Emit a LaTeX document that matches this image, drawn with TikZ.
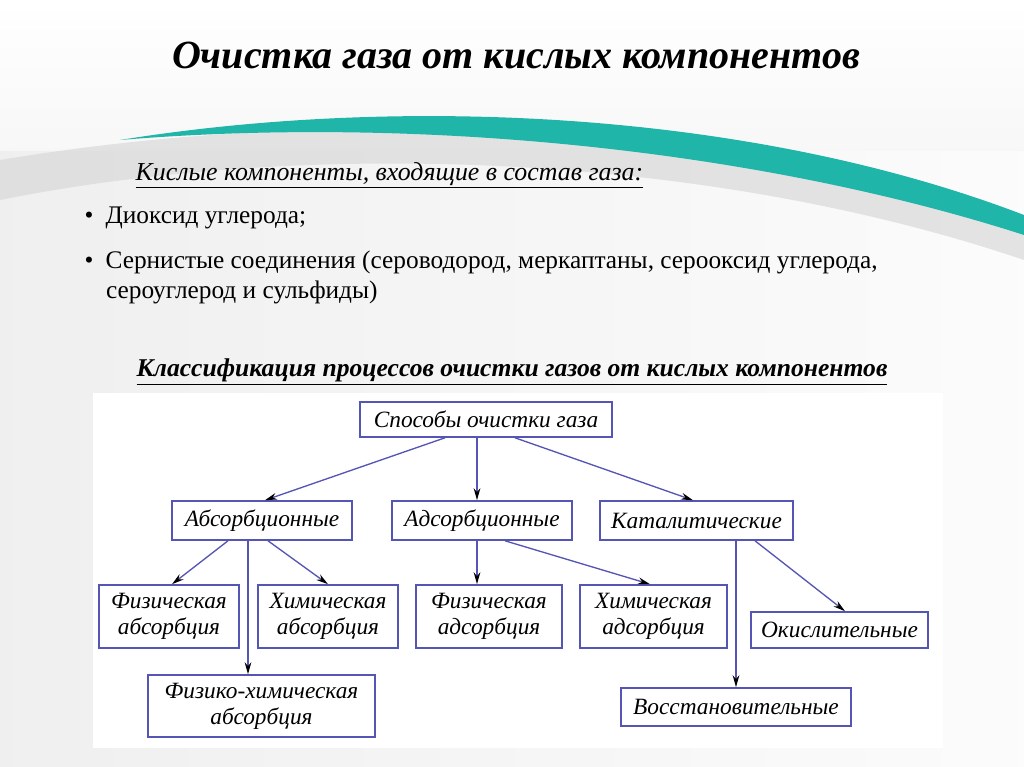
\documentclass[tikz,border=0pt]{standalone}
\usepackage{fontspec}
\setmainfont{Liberation Serif}
\usetikzlibrary{arrows.meta,calc}
\definecolor{edge}{HTML}{5555B5}
\definecolor{teal1}{HTML}{1FB5A8}
\begin{document}
\begin{tikzpicture}[x=0.75pt,y=-0.75pt,
  box/.style={draw=edge,line width=1.2pt,fill=white,inner sep=0pt,align=center,font=\fontsize{17.5}{19.5}\selectfont\itshape},
  conn/.style={draw=edge,line width=1pt,-{Stealth[length=9pt,width=5pt,black]}}]
\useasboundingbox (0,0) rectangle (1024,767);
\fill[left color=gray!40,right color=gray!8] (0,0) rectangle (1024,767);
\fill[white,opacity=0.7] (0,0) rectangle (1024,767);
\fill[top color=white,bottom color=white!94!gray] (0,0) rectangle (1024,150);
% swoosh
\fill[gray!30,opacity=0.7] (0,160) .. controls (300,110) and (700,110) .. (1024,230) -- (1024,260) .. controls (700,150) and (300,140) .. (0,200) -- cycle;
\fill[teal1] (120,140) .. controls (400,95) and (750,110) .. (1024,215) -- (1024,235) .. controls (760,150) and (420,115) .. (120,140) -- cycle;
\node[font=\fontsize{30}{34}\selectfont\bfseries\itshape] (title) at (516,55) {Очистка газа от кислых компонентов};
\node[anchor=west,font=\fontsize{19.4}{23}\selectfont\itshape] (sub) at (131,175) {\underline{Кислые компоненты, входящие в состав газа:}};
\node[anchor=west,font=\fontsize{19}{23}\selectfont] (b1) at (80,218) {•\hspace{9pt}Диоксид углерода;};
\node[anchor=north west,align=left,font=\fontsize{19}{23}\selectfont] (b2) at (80,246) {•\hspace{9pt}Сернистые соединения (сероводород, меркаптаны, серооксид углерода,\\\hspace{16pt}сероуглерод и сульфиды)};
\node[font=\fontsize{19.2}{23}\selectfont\bfseries\itshape] (cls) at (512,372) {\underline{Классификация процессов очистки газов от кислых компонентов}};
\fill[white] (93,393) rectangle (943,748);
\node[box,minimum width=252*0.75pt,minimum height=35*0.75pt] (top) at (486,419.5) {Способы очистки газа};
\node[box,minimum width=180*0.75pt,minimum height=39*0.75pt] (abs) at (262,520.5) {Абсорбционные};
\node[box,minimum width=180*0.75pt,minimum height=39*0.75pt] (ads) at (482,520.5) {Адсорбционные};
\node[box,minimum width=193*0.75pt,minimum height=39*0.75pt] (kat) at (696.5,520.5) {Каталитические};
\node[box,minimum width=140*0.75pt,minimum height=63*0.75pt] (fa) at (169,616.5) {Физическая\\абсорбция};
\node[box,minimum width=140*0.75pt,minimum height=63*0.75pt] (ha) at (328,616.5) {Химическая\\абсорбция};
\node[box,minimum width=146*0.75pt,minimum height=63*0.75pt] (fd) at (489,616.5) {Физическая\\адсорбция};
\node[box,minimum width=147*0.75pt,minimum height=63*0.75pt] (hd) at (653.5,616.5) {Химическая\\адсорбция};
\node[box,minimum width=177*0.75pt,minimum height=36*0.75pt] (ok) at (839.5,630) {Окислительные};
\node[box,minimum width=227*0.75pt,minimum height=62*0.75pt] (fh) at (261.5,706) {Физико-химическая\\абсорбция};
\node[box,minimum width=230*0.75pt,minimum height=38*0.75pt] (vo) at (736,707) {Восстановительные};
\draw[conn] ([xshift=-41*0.75pt]top.south) -- ([xshift=3*0.75pt]abs.north);
\draw[conn] ([xshift=-9*0.75pt]top.south) -- ([xshift=-5*0.75pt]ads.north);
\draw[conn] ([xshift=29*0.75pt]top.south) -- ([xshift=-3.5*0.75pt]kat.north);
\draw[conn] ([xshift=-34*0.75pt]abs.south) -- ([xshift=3*0.75pt]fa.north);
\draw[conn] ([xshift=-14*0.75pt]abs.south) -- ([xshift=-13.5*0.75pt]fh.north);
\draw[conn] ([xshift=6*0.75pt]abs.south) -- (ha.north);
\draw[conn] ([xshift=-5*0.75pt]ads.south) -- ([xshift=-12*0.75pt]fd.north);
\draw[conn] ([xshift=23*0.75pt]ads.south) -- ([xshift=-3.5*0.75pt]hd.north);
\draw[conn] ([xshift=39.5*0.75pt]kat.south) -- (vo.north);
\draw[conn] ([xshift=58.5*0.75pt]kat.south) -- ([xshift=5.5*0.75pt]ok.north);
\end{tikzpicture}
\end{document}
